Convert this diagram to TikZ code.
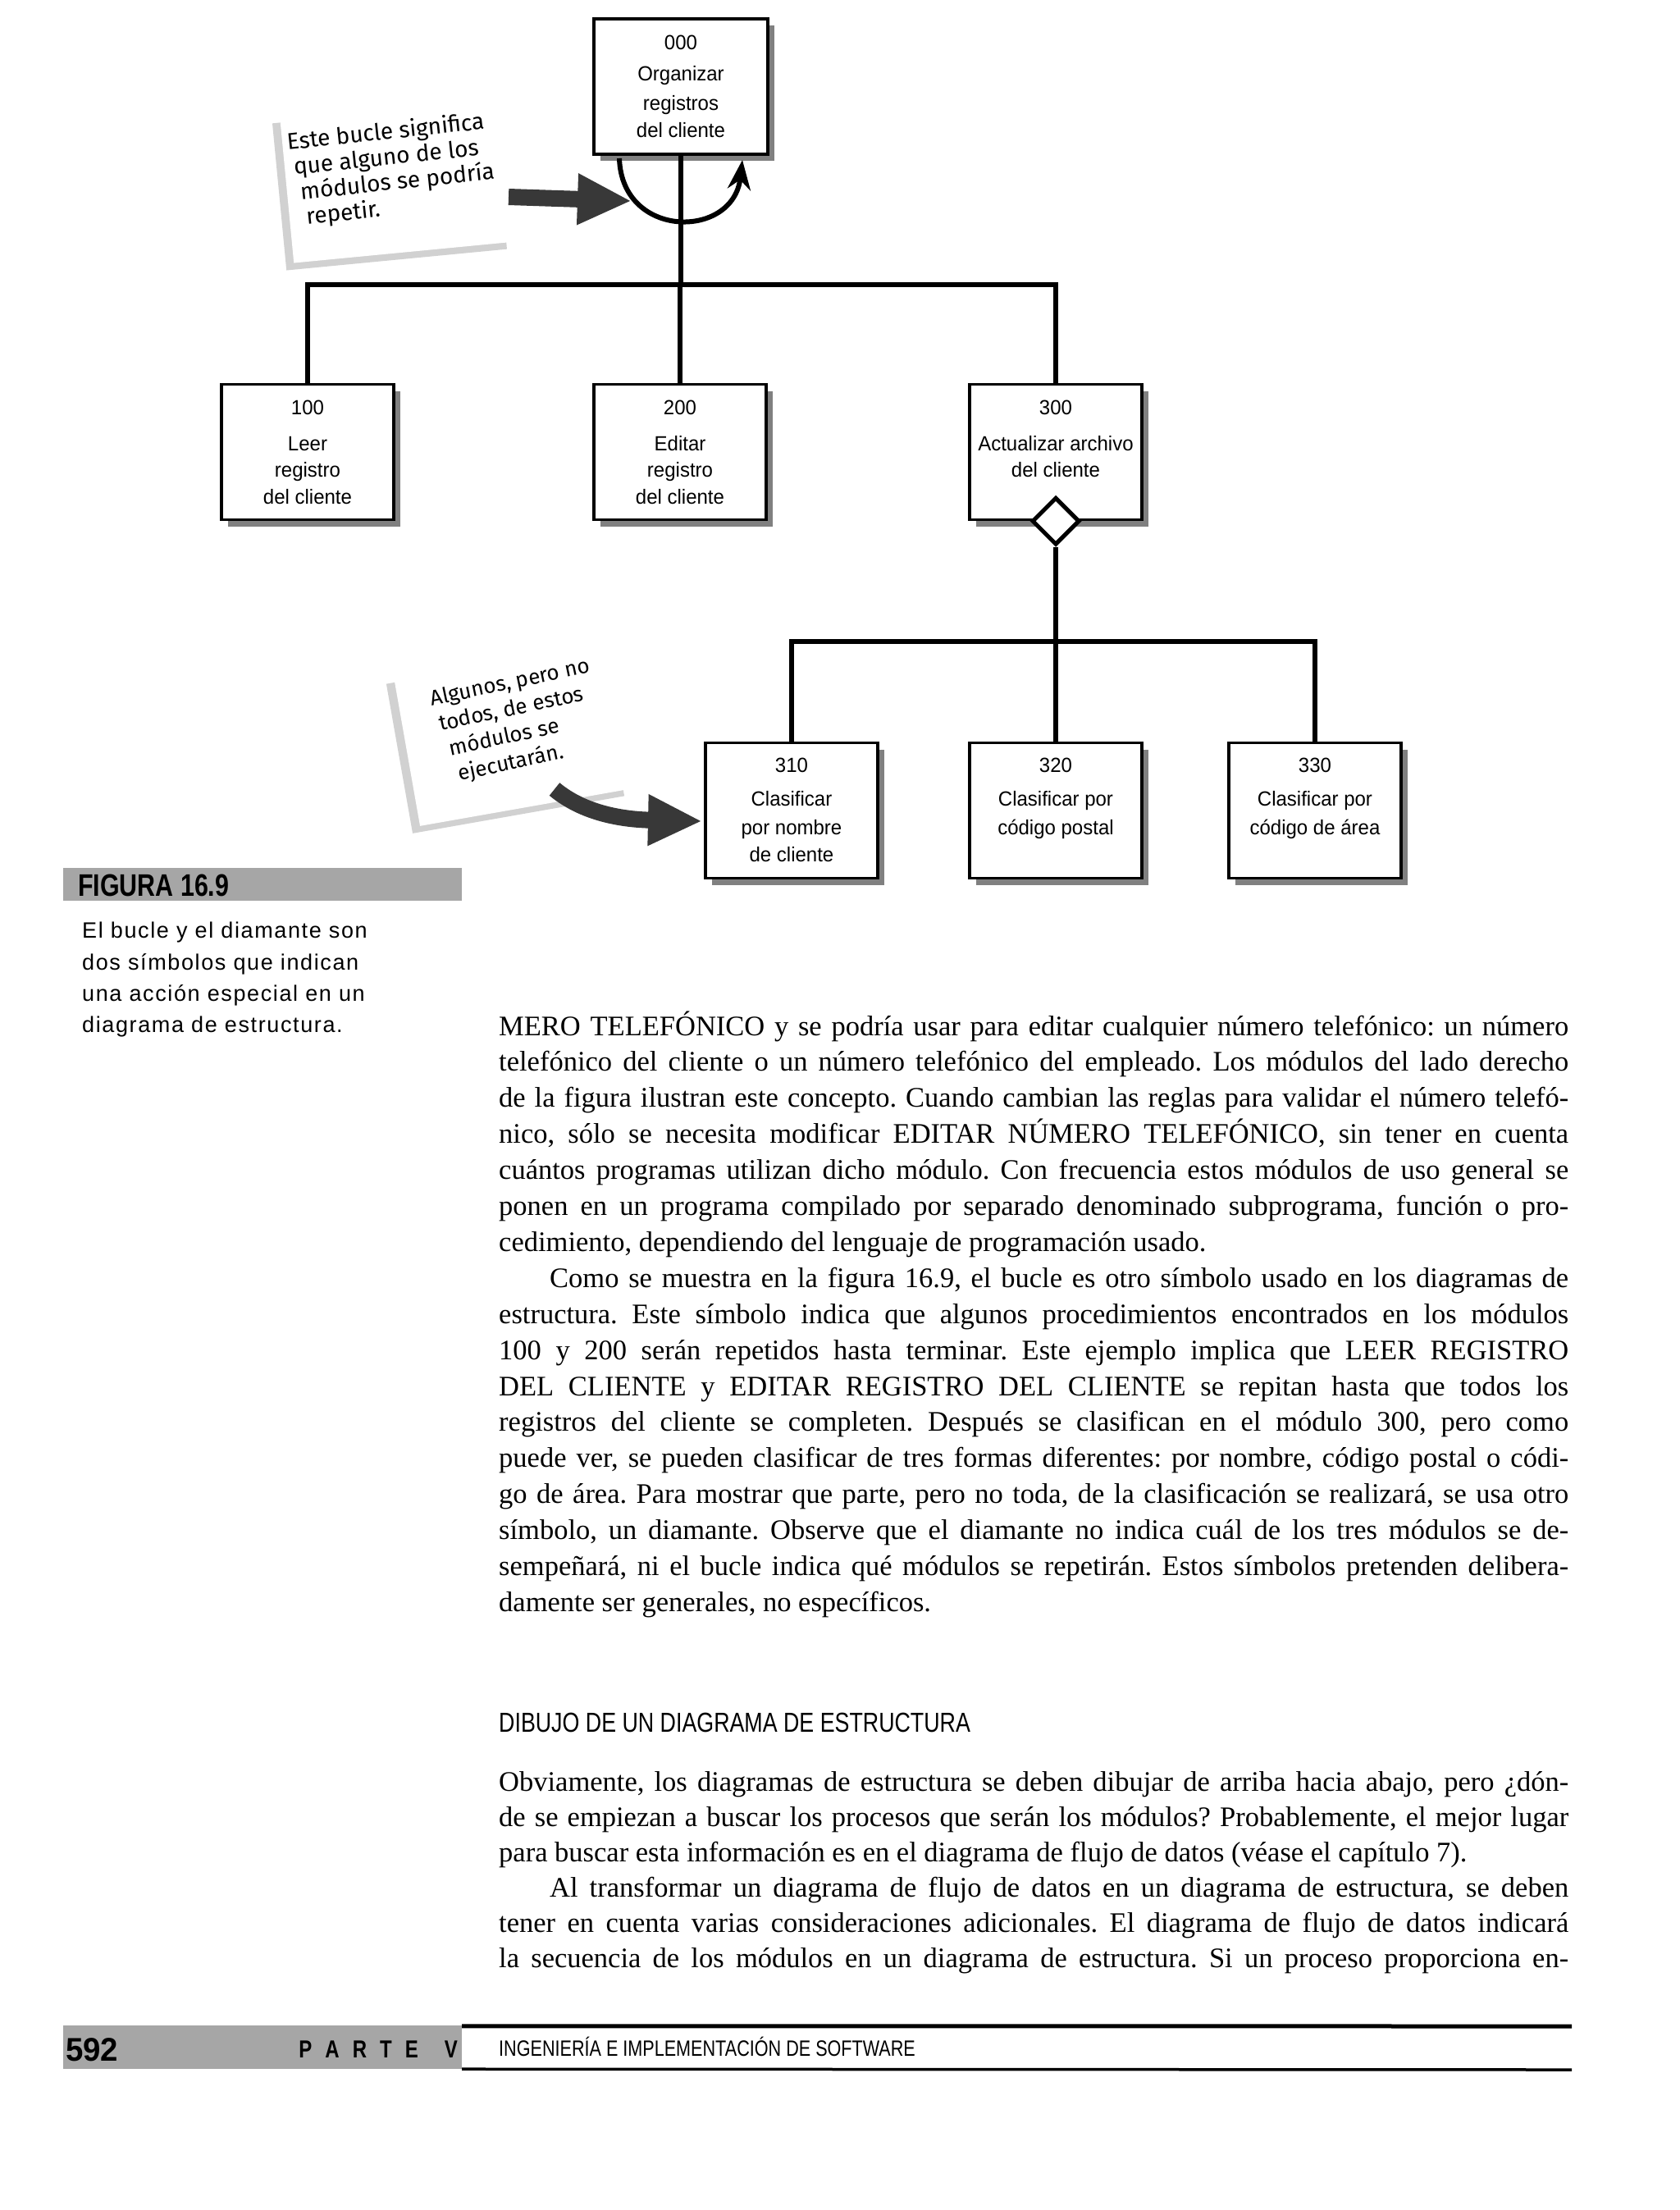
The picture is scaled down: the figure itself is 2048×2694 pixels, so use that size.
\documentclass[tikz,border=0pt]{standalone}
\usepackage{fontspec}
\setmainfont{Liberation Serif}
\newfontfamily\boxf[FakeStretch=0.96]{Liberation Sans}
\newfontfamily\capf[LetterSpace=6.0]{Liberation Sans}
\newfontfamily\condf[FakeStretch=0.8]{Liberation Sans}
\newfontfamily\notef{Fira Sans}
\usetikzlibrary{arrows.meta,calc,shapes.geometric,shadows}
\newcommand\bline[4]{\node[boxtext] (#1) at ($(#2.north)+(0,#3)$) {#4};}
\newcommand\jl[3]{\node[bodyt] (#1) at (608,#2) {\makebox[1304pt][s]{#3}};}
\newcommand\nl[3]{\node[bodyt] (#1) at (608,#2) {#3};}
\begin{document}
\begin{tikzpicture}[x=1pt,y=-1pt,
 modbox/.style={draw, line width=3.5pt, fill=white, minimum width=210pt, minimum height=165pt, inner sep=0pt,
   drop shadow={shadow xshift=8pt, shadow yshift=-8pt, fill=black!50, opacity=1}},
 boxtext/.style={anchor=base, inner sep=0pt, font=\boxf\fontsize{25}{33}\selectfont},
 conn/.style={line width=6.5pt},
 notecard/.style={fill=white, inner sep=0pt,
   drop shadow={shadow xshift=-9pt, shadow yshift=-9pt, fill=black!18, opacity=1}},
 notetext/.style={inner sep=0pt, align=left},
 bigarrow/.style={line width=20pt, black!78, -{Triangle[length=66pt,width=58pt]}},
 bodyt/.style={anchor=base west, inner sep=0pt, font=\frenchspacing\fontsize{34.5}{40}\selectfont},
 capt/.style={anchor=base west, inner sep=0pt, font=\capf\fontsize{27}{30}\selectfont},
 graybar/.style={fill=black!35, inner sep=0pt, minimum width=486pt}
]
\useasboundingbox[fill=white] (0,0) rectangle (2048,2694);

% ---------- modules ----------
\node[modbox, minimum width=212pt] (b000) at (830,105.5) {};
\node[modbox] (b100) at (375,551) {};
\node[modbox] (b200) at (829,551) {};
\node[modbox] (b300) at (1287,551) {};
\node[modbox] (b310) at (965,988) {};
\node[modbox] (b320) at (1287,988) {};
\node[modbox] (b330) at (1603,988) {};

\bline{t0a}{b000}{39}{000}
\bline{t0b}{b000}{77}{Organizar}
\bline{t0c}{b000}{113}{registros}
\bline{t0d}{b000}{146}{del cliente}

\bline{t1a}{b100}{39}{100}
\bline{t1b}{b100}{83}{Leer}
\bline{t1c}{b100}{115}{registro}
\bline{t1d}{b100}{148}{del cliente}

\bline{t2a}{b200}{39}{200}
\bline{t2b}{b200}{83}{Editar}
\bline{t2c}{b200}{115}{registro}
\bline{t2d}{b200}{148}{del cliente}

\bline{t3a}{b300}{39}{300}
\bline{t3b}{b300}{83}{Actualizar archivo}
\bline{t3c}{b300}{115}{del cliente}

\bline{t31a}{b310}{38}{310}
\bline{t31b}{b310}{79}{Clasificar}
\bline{t31c}{b310}{114}{por nombre}
\bline{t31d}{b310}{147}{de cliente}

\bline{t32a}{b320}{38}{320}
\bline{t32b}{b320}{79}{Clasificar por}
\bline{t32c}{b320}{114}{código postal}

\bline{t33a}{b330}{38}{330}
\bline{t33b}{b330}{79}{Clasificar por}
\bline{t33c}{b330}{114}{código de área}

% ---------- connectors ----------
\coordinate (bus1) at (0,347);
\coordinate (bus2) at (0,782);
\draw[conn] (b000.south) -- (b000.south |- bus1);
\draw[conn] (b100.north) -- (b100.north |- bus1) -- (b300.north |- bus1) -- (b300.north);
\draw[conn] (b200.north) -- (b200.north |- bus1);

\node[diamond, aspect=1, draw, line width=5pt, fill=white, minimum size=58pt, inner sep=0pt] (dia) at (b300.south) {};
\draw[conn] (dia.south) -- (dia.south |- bus2);
\draw[conn] (b310.north) -- (b310.north |- bus2) -- (b330.north |- bus2) -- (b330.north);
\draw[conn] (b320.north) -- (b320.north |- bus2);

% loop
\coordinate (lpA) at (755,193);
\coordinate (lpB) at (905,195);
\draw[line width=6pt, -{Stealth[length=36pt,width=28pt]}] (lpA) .. controls (758,292) and (894,292) .. (lpB);

% ---------- notes ----------
\node[notecard, minimum width=270pt, minimum height=180pt, rotate=5.5] (note1) at (484,218) {};
\node[notetext, rotate=6, font=\notef\fontsize{28}{31}\selectfont] (note1t) at (478,208)
 {Este bucle significa\\\hspace*{5pt}que alguno de los\\\hspace*{10pt}módulos se podría\\\hspace*{14pt}repetir.};
\coordinate (a1s) at (620,240);
\coordinate (a1e) at (770,245);
\draw[bigarrow] (a1s) -- (a1e);

\node[notecard, minimum width=262pt, minimum height=185pt, rotate=10] (note2) at (625,893) {};
\node[notetext, rotate=12, font=\notef\fontsize{26}{32}\selectfont] (note2t) at (632,880)
 {Algunos, pero no\\\hspace*{4pt}todos, de estos\\\hspace*{10pt}módulos se\\\hspace*{14pt}ejecutarán.};
\coordinate (a2s) at (676,962);
\coordinate (a2e) at (856,1001);
\draw[bigarrow] (a2s) .. controls (712,992) and (760,999) .. (a2e);

% ---------- caption ----------
\node[graybar, minimum height=40pt] (figbar) at (320,1078) {};
\node[anchor=base west, inner sep=0pt, font=\condf\bfseries\fontsize{38}{40}\selectfont] (figlab) at (95,1092) {FIGURA 16.9};
\node[capt] (cap1) at (100,1143) {El bucle y el diamante son};
\node[capt] (cap2) at (100,1182) {dos símbolos que indican};
\node[capt] (cap3) at (100,1220) {una acción especial en un};
\node[capt] (cap4) at (100,1258) {diagrama de estructura.};

% ---------- body text ----------
\jl{l00}{1262}{MERO TELEFÓNICO y se podría usar para editar cualquier número telefónico: un número}
\jl{l01}{1305.9}{telefónico del cliente o un número telefónico del empleado. Los módulos del lado derecho}
\jl{l02}{1349.8}{de la figura ilustran este concepto. Cuando cambian las reglas para validar el número telefó-}
\jl{l03}{1393.7}{nico, sólo se necesita modificar EDITAR NÚMERO TELEFÓNICO, sin tener en cuenta}
\jl{l04}{1437.6}{cuántos programas utilizan dicho módulo. Con frecuencia estos módulos de uso general se}
\jl{l05}{1481.5}{ponen en un programa compilado por separado denominado subprograma, función o pro-}
\nl{l06}{1525.4}{cedimiento, dependiendo del lenguaje de programación usado.}
\jl{l07}{1569.3}{\hspace*{62pt}Como se muestra en la figura 16.9, el bucle es otro símbolo usado en los diagramas de}
\jl{l08}{1613.2}{estructura. Este símbolo indica que algunos procedimientos encontrados en los módulos}
\jl{l09}{1657.1}{100 y 200 serán repetidos hasta terminar. Este ejemplo implica que LEER REGISTRO}
\jl{l10}{1701}{DEL CLIENTE y EDITAR REGISTRO DEL CLIENTE se repitan hasta que todos los}
\jl{l11}{1744.9}{registros del cliente se completen. Después se clasifican en el módulo 300, pero como}
\jl{l12}{1788.8}{puede ver, se pueden clasificar de tres formas diferentes: por nombre, código postal o códi-}
\jl{l13}{1832.7}{go de área. Para mostrar que parte, pero no toda, de la clasificación se realizará, se usa otro}
\jl{l14}{1876.6}{símbolo, un diamante. Observe que el diamante no indica cuál de los tres módulos se de-}
\jl{l15}{1920.5}{sempeñará, ni el bucle indica qué módulos se repetirán. Estos símbolos pretenden delibera-}
\nl{l16}{1964.4}{damente ser generales, no específicos.}

\node[anchor=base west, inner sep=0pt, font=\condf\fontsize{33.5}{36}\selectfont] (head) at (608,2111) {DIBUJO DE UN DIAGRAMA DE ESTRUCTURA};

\jl{m00}{2183}{Obviamente, los diagramas de estructura se deben dibujar de arriba hacia abajo, pero ¿dón-}
\jl{m01}{2226}{de se empiezan a buscar los procesos que serán los módulos? Probablemente, el mejor lugar}
\nl{m02}{2269}{para buscar esta información es en el diagrama de flujo de datos (véase el capítulo 7).}
\jl{m03}{2312}{\hspace*{62pt}Al transformar un diagrama de flujo de datos en un diagrama de estructura, se deben}
\jl{m04}{2355}{tener en cuenta varias consideraciones adicionales. El diagrama de flujo de datos indicará}
\jl{m05}{2398}{la secuencia de los módulos en un diagrama de estructura. Si un proceso proporciona en-}

% ---------- footer ----------
\node[graybar, minimum height=53pt] (footbar) at (320,2495.5) {};
\node[anchor=base west, inner sep=0pt, font=\boxf\bfseries\fontsize{40}{42}\selectfont] (pagenum) at (80,2512) {592};
\node[anchor=base east, inner sep=0pt, font=\condf\bfseries\fontsize{30}{32}\selectfont] (parte) at (558,2508)
 {P\hspace{16pt}A\hspace{16pt}R\hspace{16pt}T\hspace{16pt}E\hspace{32pt}V};
\coordinate (rule1) at (1916,2470);
\coordinate (rule2) at (1916,2523);
\draw[line width=5pt] (footbar.north east) ++(0,1) -- (rule1);
\draw[line width=3.5pt] (footbar.south east) -- (rule2);
\node[anchor=base west, inner sep=0pt, font=\condf\fontsize{27}{29}\selectfont] (foottxt) at (608,2506) {INGENIERÍA E IMPLEMENTACIÓN DE SOFTWARE};
\end{tikzpicture}
\end{document}
